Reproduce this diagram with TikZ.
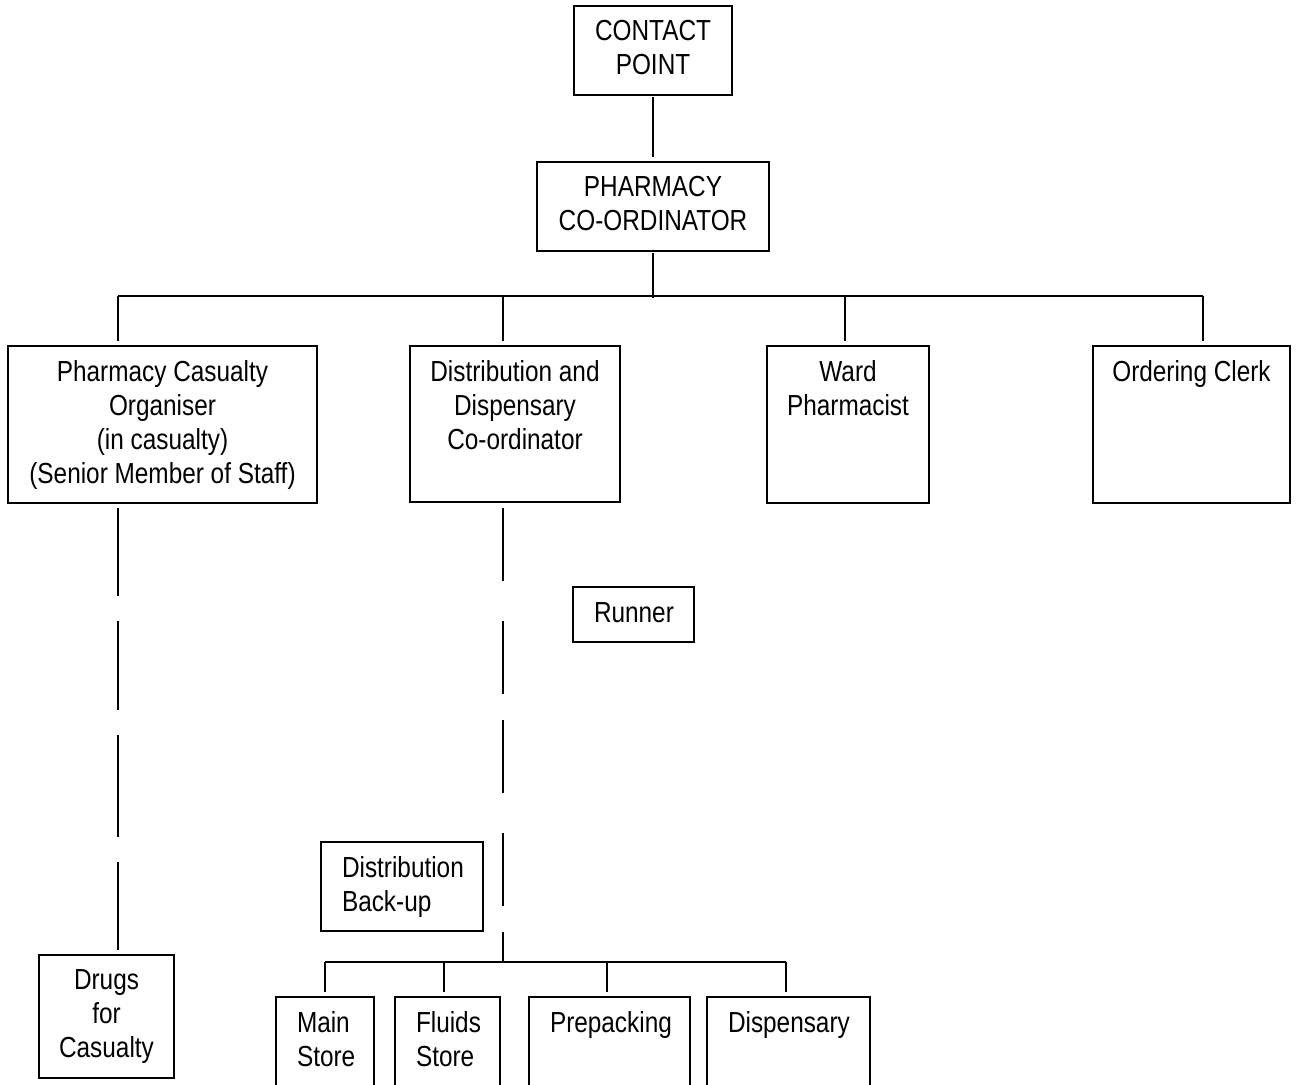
\documentclass[tikz,border=0pt]{standalone}
\usepackage{fontspec}
\setmainfont{Liberation Sans}[FakeStretch=0.84]
\begin{document}
\begin{tikzpicture}[x=1pt,y=-1pt,
  line width=2pt,
  box/.style={draw, rectangle, inner sep=0pt, outer sep=0pt},
  ctext/.style={inner sep=0pt, anchor=north, align=center,
    font=\fontsize{29}{34}\selectfont, execute at begin node=\strut},
  ltext/.style={inner sep=0pt, anchor=north west, align=left,
    font=\fontsize{29}{34}\selectfont, execute at begin node=\strut},
  link/.style={line cap=butt},
  dashA/.style={dash pattern=on 88pt off 25pt on 89pt off 25pt on 102pt off 25pt on 88pt off 25pt},
  dashB/.style={dash pattern=on 73pt off 40pt on 73pt off 26pt}
]
\useasboundingbox (0,0) rectangle (1298,1084);
\clip (0,0) rectangle (1298,1084);

% boxes: centre, width, height
\node[box, minimum width=158, minimum height=89]  (cp)  at (653,50.5)   {};
\node[box, minimum width=232, minimum height=89]  (pc)  at (653,206.5)  {};
\node[box, minimum width=309, minimum height=157] (pco) at (162.5,424.5){};
\node[box, minimum width=210, minimum height=156] (ddc) at (515,424)    {};
\node[box, minimum width=162, minimum height=157] (wp)  at (848,424.5)  {};
\node[box, minimum width=197, minimum height=157] (oc)  at (1191.5,424.5){};
\node[box, minimum width=121, minimum height=55]  (run) at (633.5,614.5){};
\node[box, minimum width=162, minimum height=89]  (dbu) at (402,886.5)  {};
\node[box, minimum width=135, minimum height=123] (dfc) at (106.5,1016.5){};
\node[box, minimum width=98,  minimum height=103] (ms)  at (325,1048.5) {};
\node[box, minimum width=105, minimum height=103] (fs)  at (447.5,1048.5){};
\node[box, minimum width=161, minimum height=103] (pp)  at (609.5,1048.5){};
\node[box, minimum width=163, minimum height=103] (dp)  at (788.5,1048.5){};

% texts
\node[ctext] (cpT)  at ([yshift=-13.7pt]cp.north)  {CONTACT\\POINT};
\node[ctext] (pcT)  at ([yshift=-13.7pt]pc.north)  {PHARMACY\\CO-ORDINATOR};
\node[ctext] (pcoT) at ([yshift=-13.7pt]pco.north) {Pharmacy Casualty\\Organiser\\(in casualty)\\(Senior Member of Staff)};
\node[ctext] (ddcT) at ([yshift=-13.7pt]ddc.north) {Distribution and\\Dispensary\\Co-ordinator};
\node[ctext] (wpT)  at ([yshift=-13.7pt]wp.north)  {Ward\\Pharmacist};
\node[ctext] (ocT)  at ([yshift=-10.2pt]oc.north)  {Ordering Clerk};
\node[ltext] (runT) at ([xshift=20pt,yshift=-10.2pt]run.north west) {Runner};
\node[ltext] (dbuT) at ([xshift=20pt,yshift=-13.2pt]dbu.north west) {Distribution\\Back-up};
\node[ctext] (dfcT) at ([yshift=-13.7pt]dfc.north) {Drugs\\for\\Casualty};
\node[ltext] (msT)  at ([xshift=20pt,yshift=-13.2pt]ms.north west) {Main\\Store};
\node[ltext] (fsT)  at ([xshift=20pt,yshift=-13.2pt]fs.north west) {Fluids\\Store};
\node[ltext] (ppT)  at ([xshift=20pt,yshift=-10.2pt]pp.north west) {Prepacking};
\node[ltext] (dpT)  at ([xshift=20pt,yshift=-10.2pt]dp.north west) {Dispensary};

% upper tree
\coordinate (busL) at (118,296);
\coordinate (busR) at (1203,296);
\coordinate (busD) at (503,296);
\coordinate (busW) at (845,296);
\draw[link, shorten <=2pt, shorten >=5pt] (cp.south) -- (pc.north);
\draw[link] (busL) -- (busR);
\draw[link, shorten <=2pt] (pc.south) -- ++(0,47);
\draw[link, shorten >=5pt] (busL) -- (pco.north -| busL);
\draw[link, shorten >=5pt] (busD) -- (ddc.north -| busD);
\draw[link, shorten >=5pt] (busW) -- (wp.north -| busW);
\draw[link, shorten >=5pt] (busR) -- (oc.north -| busR);

% dashed links
\draw[link, dashA, shorten <=5pt, shorten >=5pt] (pco.south -| busL) -- (dfc.north -| busL);
\coordinate (lowD) at (503,962);
\draw[link, dashB, shorten <=6pt] (ddc.south -| busD) -- (lowD);

% lower tree
\coordinate (lowL) at (325,962);
\coordinate (lowF) at (444,962);
\coordinate (lowP) at (607,962);
\coordinate (lowR) at (786,962);
\draw[link] (lowL) -- (lowR);
\draw[link, shorten >=5pt] (lowL) -- (ms.north -| lowL);
\draw[link, shorten >=5pt] (lowF) -- (fs.north -| lowF);
\draw[link, shorten >=5pt] (lowP) -- (pp.north -| lowP);
\draw[link, shorten >=5pt] (lowR) -- (dp.north -| lowR);
\end{tikzpicture}
\end{document}
